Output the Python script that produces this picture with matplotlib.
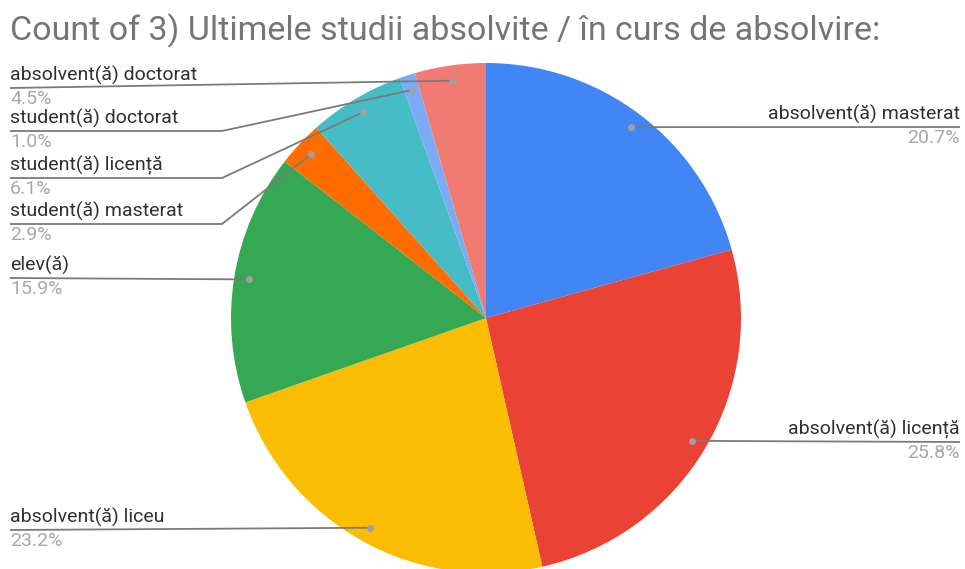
import numpy as np
import matplotlib
matplotlib.use('Agg')
import matplotlib.pyplot as plt

plt.rcParams['font.family'] = ['Roboto', 'DejaVu Sans']

# data (clockwise from 12 o'clock)
categories = ['absolvent(ă) masterat', 'absolvent(ă) licență', 'absolvent(ă) liceu',
              'elev(ă)', 'student(ă) masterat', 'student(ă) licență',
              'student(ă) doctorat', 'absolvent(ă) doctorat']
percents = [20.7, 25.8, 23.2, 15.9, 2.9, 6.1, 1.0, 4.5]
colors = ['#4285F4', '#EA4335', '#FBBC04', '#34A853', '#FF6D01', '#46BDC6', '#7BAAF7', '#F07B72']

# label layout (pixel coords, y from top): side, underline y, knee x
label_side = ['R', 'R', 'L', 'L', 'L', 'L', 'L', 'L']
label_line_y = [127, 442, 530, 278, 224, 178, 131, 88]
label_knee_x = [None, None, None, None, 222, 222, 222, 10]

W, H = 965, 569
fig = plt.figure(figsize=(W / 100, H / 100), dpi=100)
ax = fig.add_axes([0, 0, 1, 1])

cx, cy, r = 486, 318, 255
center = (cx, H - cy)
wedges, _ = ax.pie(percents, colors=colors, startangle=90, counterclock=False,
                   center=center, radius=r, wedgeprops=dict(linewidth=0))
ax.set_xlim(0, W)
ax.set_ylim(0, H)
ax.set_aspect('equal')
ax.axis('off')

def py(y):
    return H - y

for w, cat, pct, side, ly, kx in zip(wedges, categories, percents, label_side,
                                      label_line_y, label_knee_x):
    ang = np.deg2rad((w.theta1 + w.theta2) / 2)
    dx = center[0] + 0.94 * r * np.cos(ang)
    dy = center[1] + 0.94 * r * np.sin(ang)
    if side == 'R':
        xs = [dx, 960]
        ys = [dy, py(ly)]
        tx, ha = 960, 'right'
    else:
        if kx is None:
            xs = [10, dx]
            ys = [py(ly), dy]
        else:
            xs = [10, kx, dx]
            ys = [py(ly), py(ly), dy]
        tx, ha = 10, 'left'
    ax.plot(xs, ys, color='#7a7a7a', lw=1.3, solid_capstyle='butt', zorder=3)
    ax.plot(dx, dy, 'o', color='#a0a0a0', ms=5, zorder=4, mec='none')
    ax.text(tx, py(ly) + 3, cat, ha=ha, va='bottom', fontsize=14, color='#303030')
    ax.text(tx, py(ly) - 2, f'{pct:.1f}%', ha=ha, va='top', fontsize=14, color='#a8a8a8')

fig.text(10 / W, 1 - 31 / H, 'Count of 3) Ultimele studii absolvite / în curs de absolvire:',
         ha='left', va='center', fontsize=24.5, color='#757575')

fig.savefig('out.png', dpi=100)
